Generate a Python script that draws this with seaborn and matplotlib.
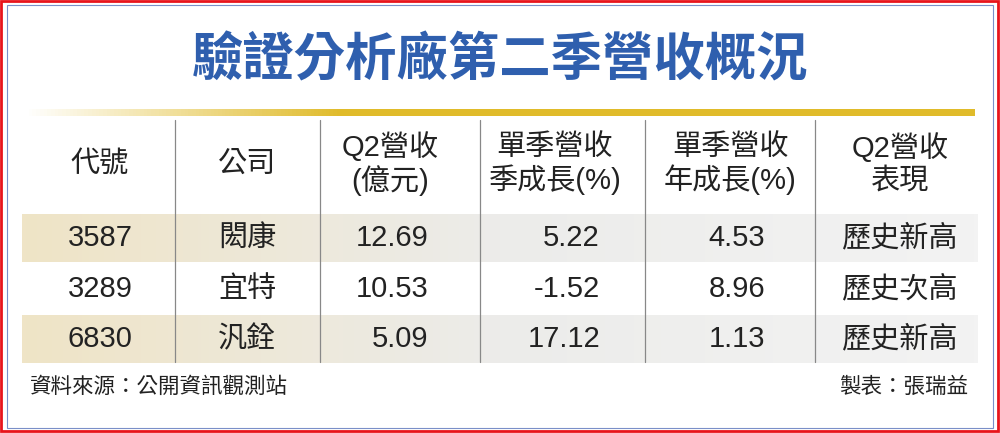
import matplotlib
matplotlib.use("Agg")
import matplotlib.pyplot as plt
import seaborn as sns
import numpy as np
from matplotlib.patches import Rectangle

sns.set_theme(style="white")
plt.rcParams['font.family'] = ['Liberation Sans', 'Noto Sans CJK TC', 'DejaVu Sans']

title = "驗證分析廠第二季營收概況"
headers = ["代號", "公司", "Q2營收\n(億元)", "單季營收\n季成長(%)", "單季營收\n年成長(%)", "Q2營收\n表現"]
codes = ["3587", "3289", "6830"]
companies = ["閎康", "宜特", "汎銓"]
revenue = [12.69, 10.53, 5.09]
qoq = [5.22, -1.52, 17.12]
yoy = [4.53, 8.96, 1.13]
perf = ["歷史新高", "歷史次高", "歷史新高"]
source = "資料來源：公開資訊觀測站"
author = "製表：張瑞益"

fig = plt.figure(figsize=(10, 4.33), dpi=100)
ax = fig.add_axes([0, 0, 1, 1])
ax.set_xlim(0, 1000); ax.set_ylim(433, 0); ax.axis("off")

ax.add_patch(Rectangle((1, 1), 997, 430, fill=False, ec="#e8141b", lw=2))
ax.add_patch(Rectangle((7, 5), 986, 423, fill=False, ec="#7a8fc8", lw=0.8))

ax.text(500, 60, title, ha="center", va="center", fontsize=37, fontweight="bold",
        color="#2f5fae", family=['Noto Sans CJK TC'])

grad = np.linspace(0, 1, 256)[None, :]
cmap = matplotlib.colors.LinearSegmentedColormap.from_list("g", ["#ffffff", "#e0bb2a", "#e0bb2a", "#e0bb2a"])
ax.imshow(grad, extent=(25, 975, 116, 109), cmap=cmap, aspect="auto", zorder=2)

row_y = [238, 289, 339]
shade = np.linspace(0, 1, 256)[None, :]
scmap = matplotlib.colors.LinearSegmentedColormap.from_list("s", ["#efe4c6", "#ececea", "#f3f3f3"])
for i in (0, 2):
    ax.imshow(shade, extent=(22, 978, row_y[i] + 24, row_y[i] - 24), cmap=scmap, aspect="auto", zorder=1)

for x in [175, 320, 480, 645, 815]:
    ax.plot([x, x], [120, 362], color="#888888", lw=0.9, zorder=3)

hx = [100, 247, 390, 555, 730, 900]
for x, h in zip(hx, headers):
    ax.text(x, 164, h, ha="center", va="center", fontsize=21, color="#222222", linespacing=1.15)

fs = 21
for i, y in enumerate(row_y):
    ax.text(100, y, codes[i], ha="center", va="center", fontsize=fs, color="#222222", zorder=4)
    ax.text(247, y, companies[i], ha="center", va="center", fontsize=fs, color="#222222", zorder=4)
    ax.text(428, y, f"{revenue[i]:.2f}", ha="right", va="center", fontsize=fs, color="#222222", zorder=4)
    ax.text(600, y, f"{qoq[i]:.2f}", ha="right", va="center", fontsize=fs, color="#222222", zorder=4)
    ax.text(765, y, f"{yoy[i]:.2f}", ha="right", va="center", fontsize=fs, color="#222222", zorder=4)
    ax.text(900, y, perf[i], ha="center", va="center", fontsize=fs, color="#222222", zorder=4)

ax.text(30, 387, source, ha="left", va="center", fontsize=15.5, color="#222222")
ax.text(968, 387, author, ha="right", va="center", fontsize=15.5, color="#222222")

fig.savefig("out.png", dpi=100)
